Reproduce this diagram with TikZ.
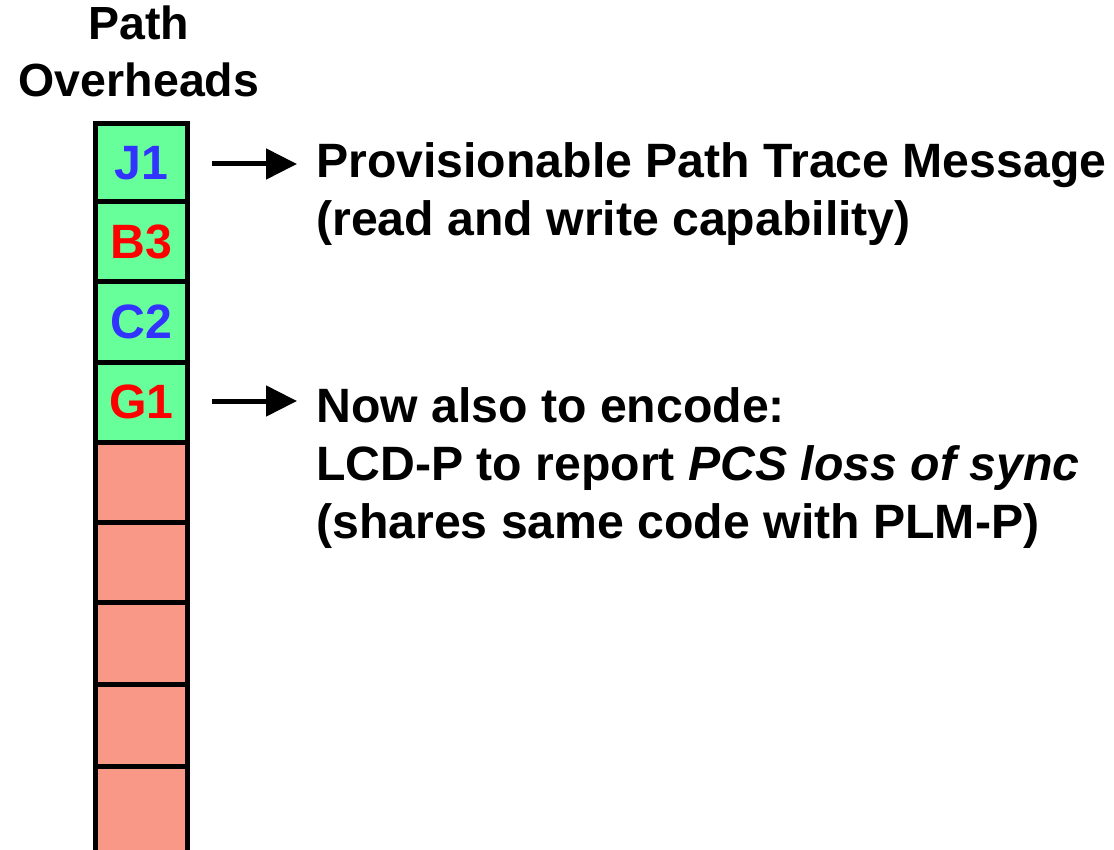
\documentclass[tikz,border=0pt]{standalone}
\usepackage{fontspec}
\setmainfont{Liberation Sans}
\usetikzlibrary{arrows.meta}
\definecolor{cellgreen}{RGB}{102,255,153}
\definecolor{cellpink}{RGB}{250,152,136}
\definecolor{lblblue}{RGB}{51,51,255}
\definecolor{lblred}{RGB}{255,0,0}
\begin{document}
\begin{tikzpicture}[x=1pt,y=-1pt,
  bigfont/.style={font=\fontsize{48.2}{58}\selectfont\bfseries},
  titlefont/.style={font=\fontsize{46.5}{57}\selectfont\bfseries},
  cell/.style={draw=black, line width=5pt, minimum width=92.5pt, inner sep=0pt, bigfont},
  gcell/.style={cell, fill=cellgreen},
  pcell/.style={cell, fill=cellpink},
  desc/.style={bigfont, align=left, anchor=base west, inner sep=0pt},
  arr/.style={line width=5pt, -{Triangle[length=31pt,width=30pt]}}]
\useasboundingbox (0,0) rectangle (1114,850);
\begin{scope}
\clip (0,0) rectangle (1114,850);
% column of overhead bytes
\node[gcell, minimum height=78pt, text=lblblue] (j1) at (141.25,163) {J1};
\node[gcell, minimum height=80pt, text=lblred] (b3) at (141.25,242) {B3};
\node[gcell, minimum height=80pt, text=lblblue] (c2) at (141.25,322) {C2};
\node[gcell, minimum height=80pt, text=lblred] (g1) at (141.25,402) {G1};
\node[pcell, minimum height=80pt] (e1) at (141.25,482) {};
\node[pcell, minimum height=80pt] (e2) at (141.25,562) {};
\node[pcell, minimum height=82pt] (e3) at (141.25,643) {};
\node[pcell, minimum height=82pt] (e4) at (141.25,725) {};
\node[pcell, minimum height=90pt] (e5) at (141.25,811) {};
\end{scope}
% title (anchor = baseline of the last line)
\node[titlefont, align=center, anchor=base, inner sep=0pt] (title) at (139,97) {Path\\Overheads};
% descriptions (anchor = baseline of the last line)
\node[desc] (t1) at (316,236) {Provisionable Path Trace Message\\(read and write capability)};
\node[desc] (t2) at (316,538) {Now also to encode:\\LCD-P to report \textit{PCS loss of sync}\\(shares same code with PLM-P)};
% arrows
\draw[arr] ([xshift=22pt,yshift=-1pt]j1.east) -- ([xshift=107pt,yshift=-1pt]j1.east);
\draw[arr] ([xshift=22pt,yshift=1pt]g1.east) -- ([xshift=107pt,yshift=1pt]g1.east);
\end{tikzpicture}
\end{document}
